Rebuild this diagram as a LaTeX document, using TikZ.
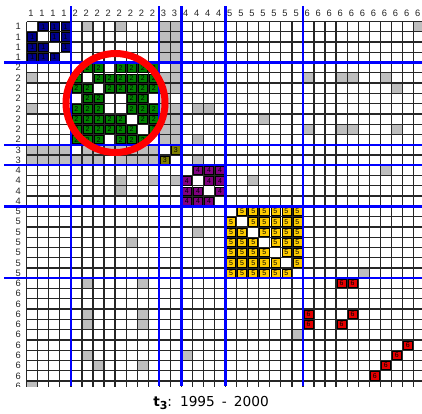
\documentclass[tikz,border=0pt]{standalone}
\usepackage{fontspec}
\setmainfont{Liberation Sans}
\newfontfamily\titlefont{DejaVu Sans}
\definecolor{gnavy}{RGB}{0,0,140}
\definecolor{ggreen}{RGB}{0,128,0}
\definecolor{golive}{RGB}{128,128,0}
\definecolor{gpurple}{RGB}{128,0,128}
\definecolor{ggold}{RGB}{255,204,0}
\definecolor{gred}{RGB}{230,0,0}
\definecolor{ggray}{RGB}{190,190,190}
\definecolor{gblue}{RGB}{0,0,255}
\definecolor{ringred}{RGB}{255,0,0}
\tikzset{
  gridline/.style={draw=black!85, line width=1.25pt},
  blockcellst/.style={draw=black, line width=0.6pt},
  celltext/.style={font=\fontsize{7}{8}\selectfont, inner sep=0pt, text=black},
  headlabel/.style={font=\fontsize{9.3}{10}\selectfont, inner sep=0pt, text=black!85},
  groupline/.style={draw=gblue, line width=2.3pt},
  ring/.style={draw=ringred, line width=7pt},
}
\newcommand\cx[1]{26.7+(#1)*11.05}
\newcommand\cy[1]{21.5+(#1)*10.27}
\newcommand\graycell[2]{\fill[ggray] ({\cx{#2}},{\cy{#1}}) rectangle ++(11.05,10.27);}
\newcommand\blockcell[4]{%
  \draw[blockcellst, fill=#3] ({\cx{#2}+1},{\cy{#1}+1}) rectangle ++(9.05,8.27);
  \node[celltext] (d#1-#2) at ({\cx{#2+0.5}},{\cy{#1+0.5}}) {#4};}
\begin{document}
\begin{tikzpicture}[x=1pt,y=-1pt]
\useasboundingbox (0,0) rectangle (422,413);
\fill[white] (0,0) rectangle (422,413);
\begin{scope}
  \clip (20,20) rectangle (422,386);
  % gray ties (symmetric)
  \foreach \r/\c in {0/5,0/8,0/12,0/13,1/12,1/13,2/12,2/13,3/12,3/13,0/35,
      12/5,12/6,12/7,12/8,12/9,12/10,12/11,
      13/4,13/5,13/6,13/8,13/9,13/10,13/11,
      8/15,8/16,11/15,9/21,5/25,5/28,5/29,5/32,6/33,
      10/25,10/28,10/29,10/33,13/15,15/20,14/32,24/30}
    {\graycell{\r}{\c}\graycell{\c}{\r}}
  % grid
  \foreach \k in {0,...,36} {
    \draw[gridline] ({\cx{\k}},{\cy{0}}) -- ({\cx{\k}},392);
    \draw[gridline] ({\cx{0}},{\cy{\k}}) -- (426,{\cy{\k}});
  }
  % block 1
  \foreach \r in {0,...,3} \foreach \c in {0,...,3} {
    \ifnum\r=\c\else\blockcell{\r}{\c}{gnavy}{1}\fi}
  % block 2
  \foreach \r/\cs in {4/{5,6,8,9,10,11},5/{4,6,7,8,9,10,11},6/{4,5,7,8,9,10,11},
      7/{5,6,9,10},8/{4,5,6,9,10,11},9/{4,5,6,7,8,10,11},
      10/{4,5,6,7,8,9,11},11/{4,5,6,8,9,10}}
    {\foreach \c in \cs {\blockcell{\r}{\c}{ggreen}{2}}}
  % block 3
  \blockcell{12}{13}{golive}{3}
  \blockcell{13}{12}{golive}{3}
  % block 4
  \foreach \r in {14,...,17} \foreach \c in {14,...,17} {
    \ifnum\r=\c\else\blockcell{\r}{\c}{gpurple}{4}\fi}
  % block 5
  \foreach \r in {18,...,24} \foreach \c in {18,...,24} {
    \ifnum\r=\c\else\blockcell{\r}{\c}{ggold}{5}\fi}
  % block 6
  \foreach \r/\c in {25/28,25/29,28/25,28/29,29/25,29/28,31/34,32/33,33/32,34/31}
    {\blockcell{\r}{\c}{gred}{6}}
\end{scope}
% row labels (cut at the bottom edge of the matrix)
\begin{scope}
  \clip (0,0) rectangle (422,386);
  \foreach \k in {0,...,35} {
    \pgfmathtruncatemacro\g{\k<4?1:(\k<12?2:(\k<14?3:(\k<18?4:(\k<25?5:6))))}
    \node[headlabel, anchor=east] (rl\k) at (21,{\cy{\k+0.5}}) {\g};
  }
\end{scope}
% column labels
\foreach \k in {0,...,35} {
  \pgfmathtruncatemacro\g{\k<4?1:(\k<12?2:(\k<14?3:(\k<18?4:(\k<25?5:6))))}
  \node[headlabel, anchor=west] (cl\k) at ({\cx{\k}+1.4},13.3) {\g};
}
% group separators
\foreach \k in {4,12,14,18,25} {
  \draw[groupline] ({\cx{\k}},6) -- ({\cx{\k}},386);
  \draw[groupline] (4,{\cy{\k}}) -- (422,{\cy{\k}});
}
% highlight ring
\draw[ring] (115.5,103) circle[radius=49.5pt];
% title
\node[inner sep=0pt] (title) at (211,403)
  {\titlefont\fontsize{13.7}{16}\selectfont\textbf{t}\raisebox{-2.5pt}{\fontsize{11}{12}\selectfont\textbf{3}}:\hspace{8pt}1995\hspace{7pt}-\hspace{7pt}2000};
\end{tikzpicture}
\end{document}
